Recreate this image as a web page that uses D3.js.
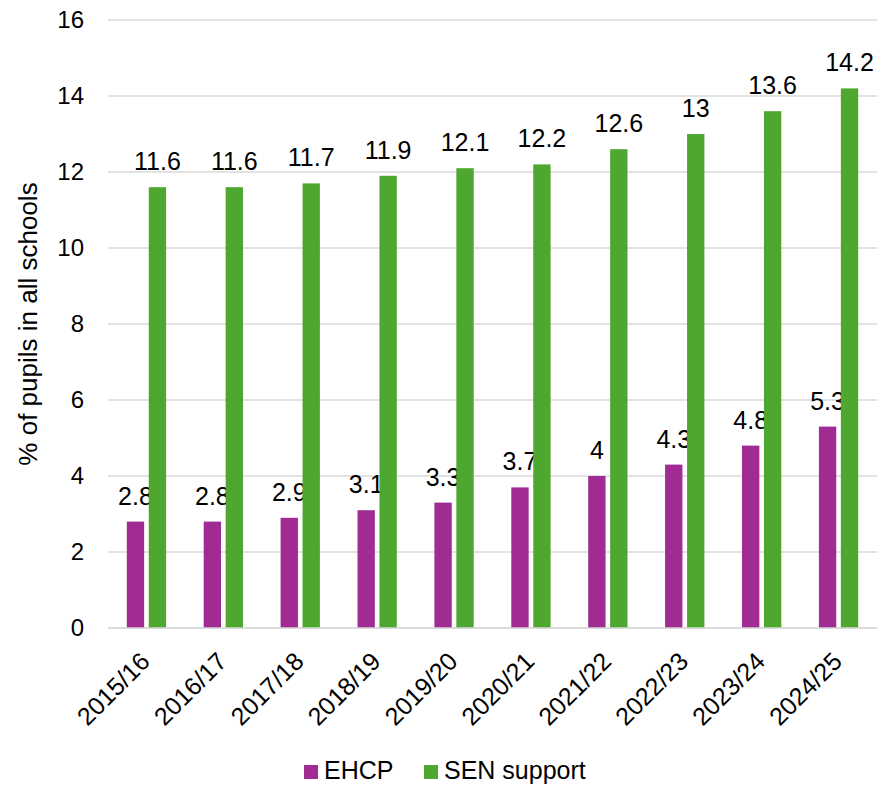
<!DOCTYPE html>
<html><head><meta charset="utf-8">
<script src="https://cdn.jsdelivr.net/npm/d3@7"></script>
<style>body{margin:0;background:#fff;} svg{display:block;font-family:"Liberation Sans",Arial,sans-serif;}</style>
</head><body>
<svg id="chart" width="892" height="786"></svg>
<script>
const categories = ["2015/16","2016/17","2017/18","2018/19","2019/20","2020/21","2021/22","2022/23","2023/24","2024/25"];
const ehcp = [2.8,2.8,2.9,3.1,3.3,3.7,4,4.3,4.8,5.3];
const senSupport = [11.6,11.6,11.7,11.9,12.1,12.2,12.6,13,13.6,14.2];
const seriesNames = ["EHCP","SEN support"];
const seriesColors = ["#A02B93","#4EA72E"];
const yTicks = [0,2,4,6,8,10,12,14,16];
const yTitle = "% of pupils in all schools";

const FF = "Liberation Sans, Arial, sans-serif";
const svg = d3.select("#chart");
const m = {left:108, right:15, top:20, bottom:158};
const W = 892, H = 786;
const x0 = d3.scaleBand().domain(categories).range([m.left, W-m.right]);
const groupW = 39.3;
const x1 = d3.scaleBand().domain(seriesNames).range([0, groupW]).paddingInner(0.21);
const y = d3.scaleLinear().domain([0,16]).range([H-m.bottom, m.top]);

// gridlines
svg.append("g").selectAll("line").data(yTicks).join("line")
  .attr("x1", m.left).attr("x2", W-m.right)
  .attr("y1", d=>y(d)).attr("y2", d=>y(d))
  .attr("stroke","#d9d9d9").attr("stroke-width",1.5);

// y axis
const ya = svg.append("g").attr("transform",`translate(${m.left},0)`)
  .call(d3.axisLeft(y).tickValues(yTicks).tickSize(0).tickPadding(24));
ya.select(".domain").remove();
ya.selectAll("text").attr("font-size",24).attr("fill","#000").attr("font-family",FF);

svg.append("text").attr("transform",`translate(37,${(m.top+H-m.bottom)/2}) rotate(-90)`)
  .attr("text-anchor","middle").attr("font-size",26).attr("font-family",FF).attr("fill","#000").text(yTitle);

// x axis
const xa = svg.append("g").attr("transform",`translate(0,${H-m.bottom})`)
  .call(d3.axisBottom(x0).tickSize(0).tickPadding(0));
xa.select(".domain").remove();
xa.selectAll("text").attr("font-size",25).attr("fill","#000").attr("font-family",FF)
  .attr("text-anchor","end").attr("y",0).attr("dy","0")
  .attr("transform","translate(5,35) rotate(-45)");

const data = [ehcp, senSupport];
const groups = svg.append("g").selectAll("g").data(seriesNames).join("g");
groups.each(function(name, si){
  const g = d3.select(this);
  const vals = data[si];
  const off = x0.bandwidth()/2 - groupW/2;
  g.selectAll("rect").data(vals).join("rect")
    .attr("x",(d,i)=>x0(categories[i]) + off + x1(name))
    .attr("width", x1.bandwidth())
    .attr("y", d=>y(d)).attr("height", d=>y(0)-y(d))
    .attr("fill", seriesColors[si]);
  g.selectAll("text").data(vals).join("text")
    .attr("x",(d,i)=>x0(categories[i]) + off + x1(name) + x1.bandwidth()/2)
    .attr("y", d=>y(d)-17)
    .attr("text-anchor","middle").attr("font-size",25).attr("font-family",FF).attr("fill","#000")
    .text(d=>d);
});

// baseline
svg.append("line").attr("x1",m.left).attr("x2",W-m.right).attr("y1",y(0)).attr("y2",y(0))
  .attr("stroke","#d9d9d9").attr("stroke-width",1.5);

// legend
const legX = [304, 424];
const lg = svg.append("g");
seriesNames.forEach((n,i)=>{
  lg.append("rect").attr("x",legX[i]).attr("y",765).attr("width",14).attr("height",14).attr("fill",seriesColors[i]);
  lg.append("text").attr("x",legX[i]+20).attr("y",779).attr("font-size",25).attr("font-family",FF).attr("fill","#000").text(n);
});
</script>
</body></html>
